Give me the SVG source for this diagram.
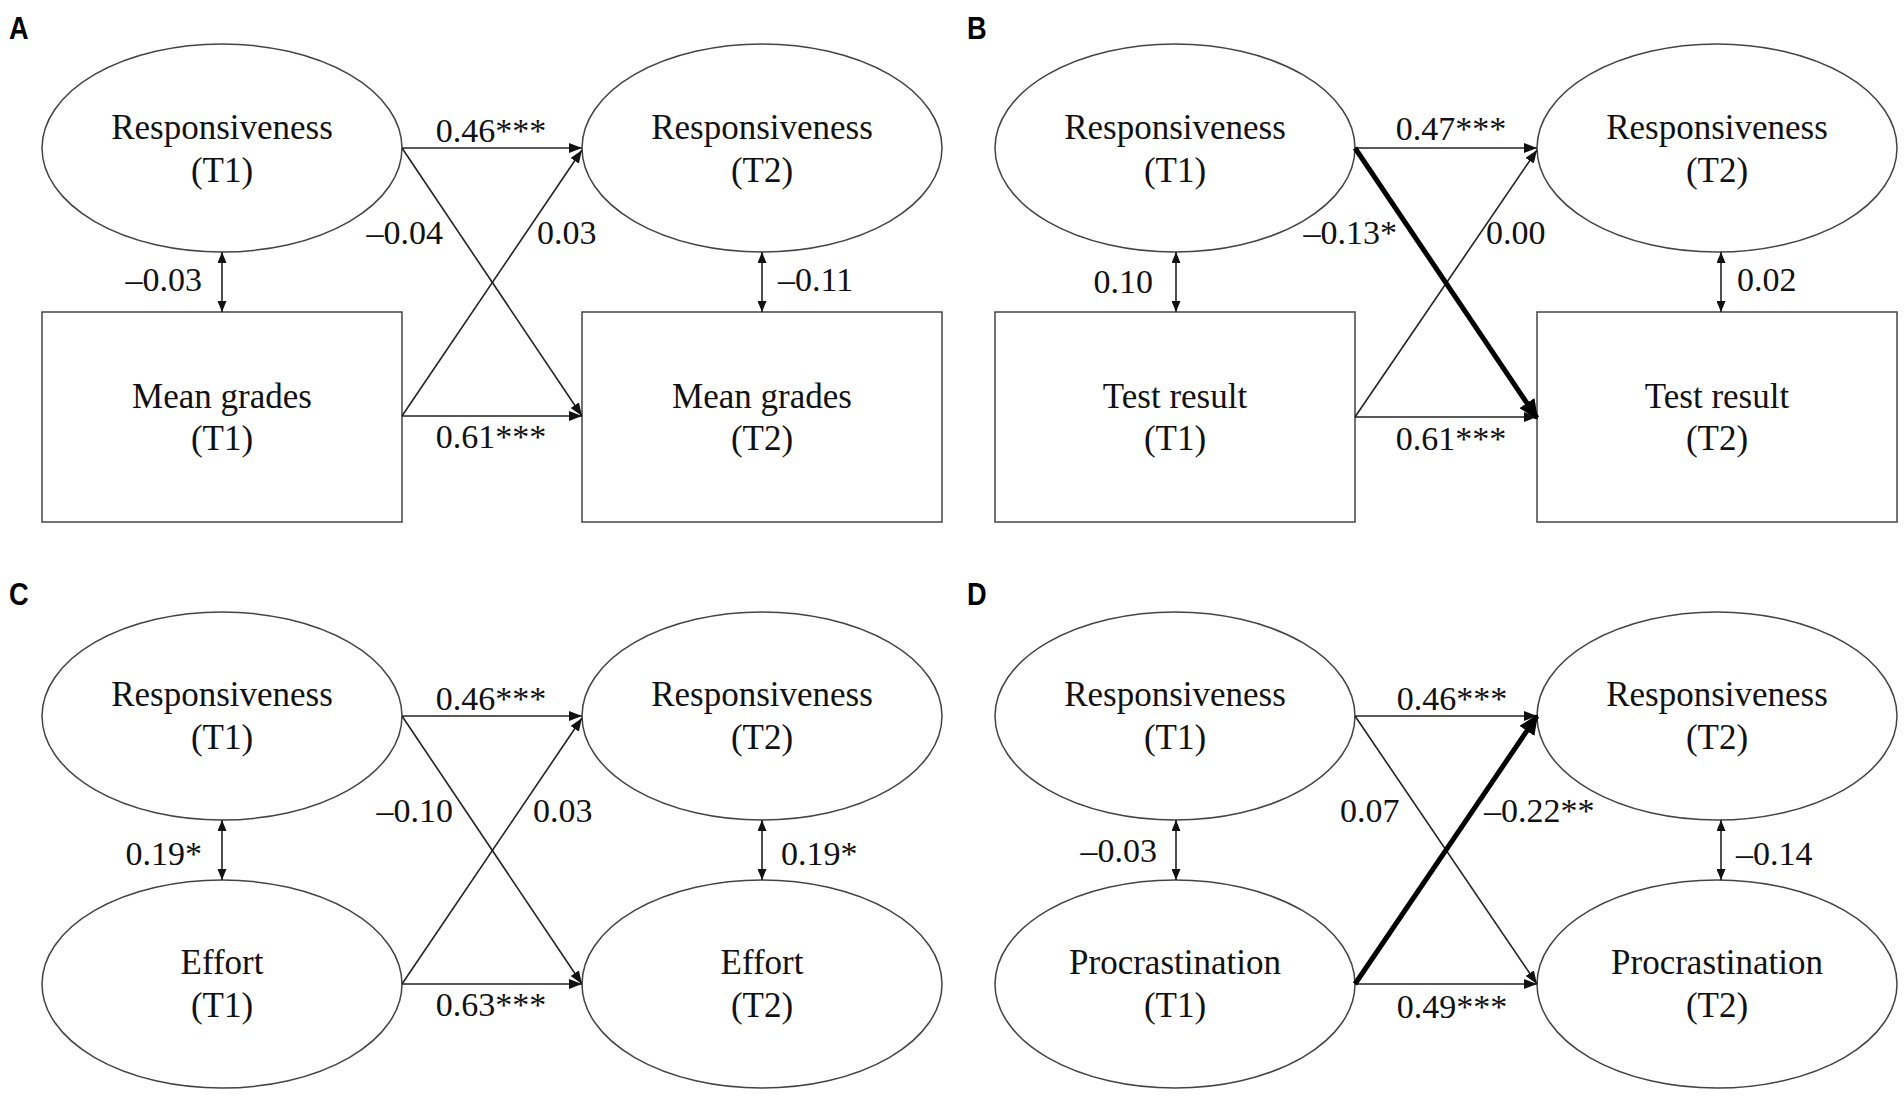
<svg xmlns="http://www.w3.org/2000/svg" width="1904" height="1096" viewBox="0 0 1904 1096">
<defs>
<style>
.node{fill:#fff;stroke:#444;stroke-width:1.5}
.nt{font-family:"Liberation Serif","Times New Roman",serif;font-size:35px;fill:#111;text-anchor:middle}
.lb{font-family:"Liberation Serif","Times New Roman",serif;font-size:34px;fill:#111}
.pl{font-family:"Liberation Sans",Arial,sans-serif;font-size:32px;font-weight:bold;fill:#000}
.ln{stroke:#222;stroke-width:1.6;fill:none;marker-end:url(#ah)}
.bd{stroke:#000;stroke-width:5;fill:none;marker-end:url(#ahb)}
.dbl{stroke:#222;stroke-width:1.6;fill:none;marker-start:url(#ad);marker-end:url(#ad)}
</style>
<marker id="ah" markerUnits="userSpaceOnUse" markerWidth="13" markerHeight="10" refX="13" refY="5" orient="auto"><path d="M0,0 L13,5 L0,10 z" fill="#111"/></marker>
<marker id="ahb" markerUnits="userSpaceOnUse" markerWidth="20" markerHeight="18" refX="18" refY="9" orient="auto"><path d="M0,0 L20,9 L0,18 z" fill="#000"/></marker>
<marker id="ad" markerUnits="userSpaceOnUse" markerWidth="11" markerHeight="9" refX="11" refY="4.5" orient="auto-start-reverse"><path d="M0,0 L11,4.5 L0,9 z" fill="#111"/></marker>
</defs>
<rect width="1904" height="1096" fill="#fff"/>

<text class="pl" x="9" y="39" transform="translate(9 0) scale(0.85 1) translate(-9 0)">A</text>
<text class="pl" x="967" y="39" transform="translate(967 0) scale(0.85 1) translate(-967 0)">B</text>
<text class="pl" x="9" y="605" transform="translate(9 0) scale(0.85 1) translate(-9 0)">C</text>
<text class="pl" x="967" y="605" transform="translate(967 0) scale(0.85 1) translate(-967 0)">D</text>

<!-- Panel A -->
<g id="a-resp-t1"><ellipse class="node" cx="222" cy="148" rx="180" ry="104"/><text class="nt" x="222" y="139">Responsiveness</text><text class="nt" x="222" y="182">(T1)</text></g>
<g id="a-resp-t2"><ellipse class="node" cx="762" cy="148" rx="180" ry="104"/><text class="nt" x="762" y="139">Responsiveness</text><text class="nt" x="762" y="182">(T2)</text></g>
<g id="a-grades-t1"><rect class="node" x="42" y="312" width="360" height="210"/><text class="nt" x="222" y="408">Mean grades</text><text class="nt" x="222" y="450">(T1)</text></g>
<g id="a-grades-t2"><rect class="node" x="582" y="312" width="360" height="210"/><text class="nt" x="762" y="408">Mean grades</text><text class="nt" x="762" y="450">(T2)</text></g>

<!-- Panel B -->
<g id="b-resp-t1"><ellipse class="node" cx="1175" cy="148" rx="180" ry="104"/><text class="nt" x="1175" y="139">Responsiveness</text><text class="nt" x="1175" y="182">(T1)</text></g>
<g id="b-resp-t2"><ellipse class="node" cx="1717" cy="148" rx="180" ry="104"/><text class="nt" x="1717" y="139">Responsiveness</text><text class="nt" x="1717" y="182">(T2)</text></g>
<g id="b-test-t1"><rect class="node" x="995" y="312" width="360" height="210"/><text class="nt" x="1175" y="408">Test result</text><text class="nt" x="1175" y="450">(T1)</text></g>
<g id="b-test-t2"><rect class="node" x="1537" y="312" width="360" height="210"/><text class="nt" x="1717" y="408">Test result</text><text class="nt" x="1717" y="450">(T2)</text></g>

<!-- Panel C -->
<g id="c-resp-t1"><ellipse class="node" cx="222" cy="716" rx="180" ry="104"/><text class="nt" x="222" y="706">Responsiveness</text><text class="nt" x="222" y="749">(T1)</text></g>
<g id="c-resp-t2"><ellipse class="node" cx="762" cy="716" rx="180" ry="104"/><text class="nt" x="762" y="706">Responsiveness</text><text class="nt" x="762" y="749">(T2)</text></g>
<g id="c-effort-t1"><ellipse class="node" cx="222" cy="984" rx="180" ry="104"/><text class="nt" x="222" y="974">Effort</text><text class="nt" x="222" y="1017">(T1)</text></g>
<g id="c-effort-t2"><ellipse class="node" cx="762" cy="984" rx="180" ry="104"/><text class="nt" x="762" y="974">Effort</text><text class="nt" x="762" y="1017">(T2)</text></g>

<!-- Panel D -->
<g id="d-resp-t1"><ellipse class="node" cx="1175" cy="716" rx="180" ry="104"/><text class="nt" x="1175" y="706">Responsiveness</text><text class="nt" x="1175" y="749">(T1)</text></g>
<g id="d-resp-t2"><ellipse class="node" cx="1717" cy="716" rx="180" ry="104"/><text class="nt" x="1717" y="706">Responsiveness</text><text class="nt" x="1717" y="749">(T2)</text></g>
<g id="d-proc-t1"><ellipse class="node" cx="1175" cy="984" rx="180" ry="104"/><text class="nt" x="1175" y="974">Procrastination</text><text class="nt" x="1175" y="1017">(T1)</text></g>
<g id="d-proc-t2"><ellipse class="node" cx="1717" cy="984" rx="180" ry="104"/><text class="nt" x="1717" y="974">Procrastination</text><text class="nt" x="1717" y="1017">(T2)</text></g>

<g id="connectors">
<!-- A -->
<line class="ln" x1="402" y1="148" x2="582" y2="148"/>
<line class="ln" x1="402" y1="416" x2="582" y2="416"/>
<line class="ln" x1="402" y1="148" x2="582" y2="416"/>
<line class="ln" x1="402" y1="416" x2="582" y2="150"/>
<line class="dbl" x1="222" y1="252" x2="222" y2="312"/>
<line class="dbl" x1="762" y1="252" x2="762" y2="312"/>
<text class="lb" x="491" y="142" text-anchor="middle">0.46***</text>
<text class="lb" x="491" y="448" text-anchor="middle">0.61***</text>
<text class="lb" x="443" y="244" text-anchor="end">–0.04</text>
<text class="lb" x="537" y="244">0.03</text>
<text class="lb" x="202" y="291" text-anchor="end">–0.03</text>
<text class="lb" x="778" y="291">–0.11</text>
<!-- B -->
<line class="ln" x1="1355" y1="148" x2="1537" y2="148"/>
<line class="ln" x1="1355" y1="417" x2="1537" y2="417"/>
<line class="ln" x1="1355" y1="417" x2="1537" y2="150"/>
<line class="bd" x1="1355" y1="148" x2="1537" y2="418"/>
<line class="dbl" x1="1176" y1="252" x2="1176" y2="312"/>
<line class="dbl" x1="1721" y1="252" x2="1721" y2="312"/>
<text class="lb" x="1451" y="140" text-anchor="middle">0.47***</text>
<text class="lb" x="1451" y="450" text-anchor="middle">0.61***</text>
<text class="lb" x="1397" y="244" text-anchor="end">–0.13*</text>
<text class="lb" x="1486" y="244">0.00</text>
<text class="lb" x="1153" y="293" text-anchor="end">0.10</text>
<text class="lb" x="1737" y="291">0.02</text>
<!-- C -->
<line class="ln" x1="402" y1="716" x2="582" y2="716"/>
<line class="ln" x1="402" y1="984" x2="582" y2="984"/>
<line class="ln" x1="402" y1="716" x2="582" y2="984"/>
<line class="ln" x1="402" y1="984" x2="582" y2="718"/>
<line class="dbl" x1="222" y1="820" x2="222" y2="880"/>
<line class="dbl" x1="762" y1="820" x2="762" y2="880"/>
<text class="lb" x="491" y="710" text-anchor="middle">0.46***</text>
<text class="lb" x="491" y="1016" text-anchor="middle">0.63***</text>
<text class="lb" x="453" y="822" text-anchor="end">–0.10</text>
<text class="lb" x="533" y="822">0.03</text>
<text class="lb" x="202" y="865" text-anchor="end">0.19*</text>
<text class="lb" x="781" y="865">0.19*</text>
<!-- D -->
<line class="ln" x1="1355" y1="716" x2="1537" y2="716"/>
<line class="ln" x1="1355" y1="984" x2="1537" y2="984"/>
<line class="ln" x1="1355" y1="716" x2="1537" y2="984"/>
<line class="bd" x1="1355" y1="984" x2="1537" y2="716"/>
<line class="dbl" x1="1176" y1="820" x2="1176" y2="880"/>
<line class="dbl" x1="1721" y1="820" x2="1721" y2="880"/>
<text class="lb" x="1452" y="710" text-anchor="middle">0.46***</text>
<text class="lb" x="1452" y="1018" text-anchor="middle">0.49***</text>
<text class="lb" x="1340" y="822">0.07</text>
<text class="lb" x="1484" y="822">–0.22**</text>
<text class="lb" x="1157" y="862" text-anchor="end">–0.03</text>
<text class="lb" x="1736" y="865">–0.14</text>
</g>
</svg>
